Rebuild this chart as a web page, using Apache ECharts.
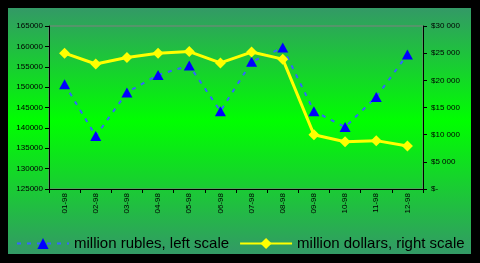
<!DOCTYPE html>
<html>
<head>
<meta charset="utf-8">
<script src="https://cdn.jsdelivr.net/npm/echarts@6/dist/echarts.min.js"></script>
<style>
html,body{margin:0;padding:0;background:#000;}
#wrap{position:relative;width:480px;height:263px;background:#000;overflow:hidden;}
#bg{position:absolute;left:8px;top:8px;width:463px;height:246px;
background:linear-gradient(to bottom,#339966 0%,#00ff00 46%,#339966 100%);}
#chart{position:absolute;left:0;top:0;width:480px;height:263px;}
</style>
</head>
<body>
<div id="wrap"><div id="bg"></div><div id="chart"></div></div>
<script>
const categories = ['01-98','02-98','03-98','04-98','05-98','06-98','07-98','08-98','09-98','10-98','11-98','12-98'];
const rubles = [150700, 138000, 148700, 153000, 155300, 144100, 156200, 159700, 144100, 140200, 147600, 158000];
const dollars = [25000, 23000, 24200, 25000, 25300, 23200, 25200, 23900, 10000, 8700, 8900, 7900];
const leftTicks = {min:125000, max:165000, step:5000};
const rightTicks = {min:0, max:30000, step:5000};
const seriesNames = ['million rubles, left scale', 'million dollars, right scale'];

const chart = echarts.init(document.getElementById('chart'), null, {renderer:'canvas'});
const lblFont = {color:'#000', fontSize:8, fontFamily:'Liberation Sans, Arial, sans-serif'};
function fmtDollar(v){
  if (v === 0) return '$-';
  const s = String(v);
  return '$' + s.slice(0, s.length-3) + ' ' + s.slice(-3);
}
chart.setOption({
  animation:false,
  backgroundColor:'transparent',
  grid:{left:49, right:57, top:26, bottom:74, show:true, borderColor:'#808080', borderWidth:1, backgroundColor:'transparent'},
  legend:{
    left:11, top:231, itemWidth:52, itemHeight:14, itemGap:10,
    textStyle:{color:'#000', fontSize:15, fontFamily:'Liberation Sans, Arial, sans-serif'},
    data:seriesNames
  },
  xAxis:{
    type:'category', data:categories, boundaryGap:true,
    axisLine:{lineStyle:{color:'#000', width:1}},
    axisTick:{show:true, length:4, lineStyle:{color:'#000'}},
    axisLabel:Object.assign({rotate:90, margin:4, interval:0}, lblFont),
    splitLine:{show:false}
  },
  yAxis:[{
    type:'value', min:leftTicks.min, max:leftTicks.max, interval:leftTicks.step,
    axisLine:{show:true, lineStyle:{color:'#000', width:1}},
    axisTick:{show:true, length:4, lineStyle:{color:'#000'}},
    axisLabel:Object.assign({margin:6, formatter:function(v){return String(v);}}, lblFont),
    splitLine:{show:false}
  },{
    type:'value', min:rightTicks.min, max:rightTicks.max, interval:rightTicks.step, position:'right',
    axisLine:{show:true, lineStyle:{color:'#000', width:1}},
    axisTick:{show:true, length:4, inside:false, lineStyle:{color:'#000'}},
    axisLabel:Object.assign({margin:8, formatter:fmtDollar}, lblFont),
    splitLine:{show:false}
  }],
  series:[{
    name:seriesNames[0], type:'line', yAxisIndex:0, data:rubles,
    symbol:'triangle', symbolSize:[11,10], showAllSymbol:true,
    itemStyle:{color:'#0000ff'},
    lineStyle:{color:'#3366ff', width:2, type:[4,6]},
    z:2
  },{
    name:seriesNames[1], type:'line', yAxisIndex:1, data:dollars,
    symbol:'diamond', symbolSize:11, showAllSymbol:true,
    itemStyle:{color:'#ffff00'},
    lineStyle:{color:'#ffff00', width:3},
    z:3
  }]
});
</script>
</body>
</html>
